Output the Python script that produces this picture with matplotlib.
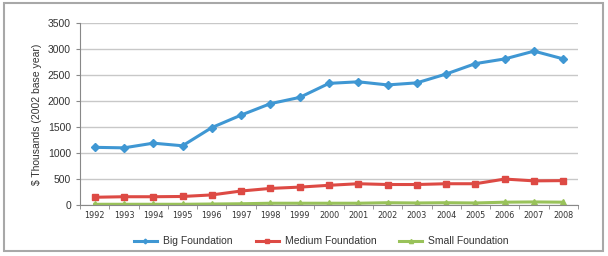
import numpy as np
import matplotlib.pyplot as plt
from matplotlib.patches import Rectangle

# Dados
years = [str(y) for y in range(1992, 2009)]
big = [1110, 1100, 1190, 1140, 1490, 1730, 1950, 2070, 2340, 2370, 2310, 2350, 2520, 2720, 2810, 2960, 2810]
medium = [150, 160, 160, 165, 195, 270, 320, 345, 380, 410, 395, 395, 410, 410, 500, 465, 470]
small = [15, 15, 15, 15, 20, 25, 35, 35, 35, 35, 45, 40, 45, 40, 55, 60, 55]

plt.rcParams['font.family'] = ['Liberation Sans', 'DejaVu Sans']

fig = plt.figure(figsize=(6.08, 2.56), dpi=100)
ax = fig.add_axes([0.1316, 0.199, 0.819, 0.711])

x = np.arange(len(years))
ax.plot(x, big, color='#3f97d3', lw=2.2, marker='D', ms=4, label='Big Foundation')
ax.plot(x, medium, color='#dd4a44', lw=2.2, marker='s', ms=5, label='Medium Foundation')
ax.plot(x, small, color='#99c25a', lw=2.2, marker='^', ms=5, label='Small Foundation')

ax.set_xlim(-0.5, 16.5)
ax.set_ylim(0, 3500)
ax.set_yticks(range(0, 3501, 500))
ax.set_xticks(x)
ax.set_xticklabels(years, family='DejaVu Sans', stretch='condensed')
ax.set_xticks(np.arange(-0.5, 17, 1), minor=True)
ax.tick_params(axis='x', which='major', length=0, labelsize=6.5, pad=4, colors='#333333')
ax.tick_params(axis='x', which='minor', length=3, color='#888888')
ax.tick_params(axis='y', length=3, labelsize=7.5, colors='#333333', color='#888888')
ax.set_ylabel('$ Thousands (2002 base year)', fontsize=7.5, color='#333333')

ax.grid(axis='y', color='#c8c8c8', lw=1)
ax.set_axisbelow(True)
for s in ['top', 'right']:
    ax.spines[s].set_visible(False)
ax.spines['left'].set_color('#888888')
ax.spines['bottom'].set_color('#888888')

leg = ax.legend(loc='upper center', bbox_to_anchor=(0.485, -0.12), ncol=3, frameon=False,
                fontsize=7.5, markerscale=0.6, handlelength=2.2, handletextpad=0.6,
                columnspacing=2.2)
for t in leg.get_texts():
    t.set_color('#333333')

# Moldura externa
fig.patches.append(Rectangle((4 / 608, 5 / 256), 599 / 608, 248 / 256, transform=fig.transFigure,
                             fill=False, ec='#a8a8a8', lw=1.5))

plt.savefig('out.png', dpi=100)
